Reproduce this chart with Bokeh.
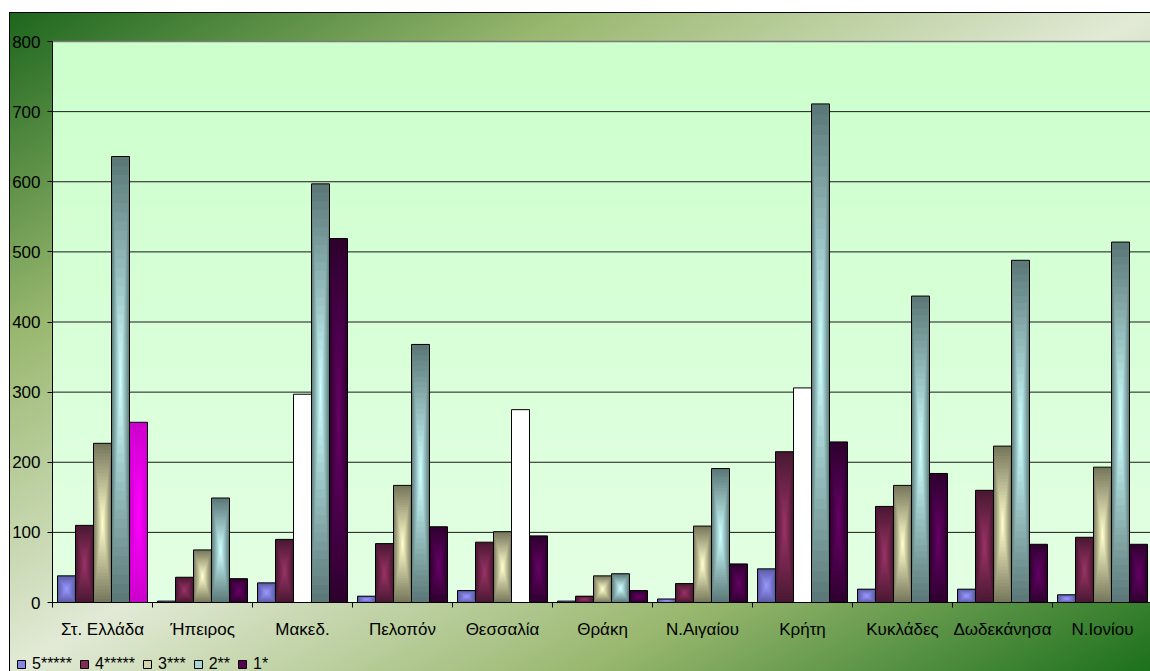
import numpy as np
from bokeh.plotting import figure
from bokeh.models import Range1d, FixedTicker, Legend, LegendItem, ColumnDataSource
from bokeh.embed import file_html
from bokeh.resources import INLINE

# Regions (x categories)
regions = ["Στ. Ελλάδα", "Ήπειρος", "Μακεδ.", "Πελοπόν", "Θεσσαλία", "Θράκη",
           "Ν.Αιγαίου", "Κρήτη", "Κυκλάδες", "Δωδεκάνησα", "Ν.Ιονίου"]

# Hotel counts by star class
series_names = ["5*****", "4*****", "3***", "2**", "1*"]
stars5 = [38, 2, 28, 9, 17, 2, 5, 48, 19, 19, 11]
stars4 = [110, 36, 90, 84, 86, 9, 27, 215, 137, 160, 93]
stars3 = [227, 75, 297, 167, 101, 38, 109, 306, 167, 223, 193]
stars2 = [636, 149, 597, 368, 275, 41, 191, 711, 437, 488, 514]
stars1 = [257, 34, 519, 108, 95, 17, 55, 229, 184, 83, 83]
series_values = [stars5, stars4, stars3, stars2, stars1]

y_ticks = [0, 100, 200, 300, 400, 500, 600, 700, 800]
Y_MAX = 800

# (edge colour, centre colour) of the "from centre" gradient fill of each series
series_fills = [("#5a5aa6", "#9999ff"),
                ("#4a1832", "#993366"),
                ("#77775c", "#ffffcc"),
                ("#5c7878", "#ccffff"),
                ("#2e002e", "#660066")]
# individually recoloured points
point_fills = {("Μακεδ.", "3***"): ("#ffffff", "#ffffff"),
               ("Θεσσαλία", "2**"): ("#ffffff", "#ffffff"),
               ("Κρήτη", "3***"): ("#ffffff", "#ffffff"),
               ("Στ. Ελλάδα", "1*"): ("#cc00cc", "#ff00ff")}

FONT = "Liberation Sans"
BAR_W = 0.18
LEVELS = 24

# canvas geometry (pixels): the frame fills the whole figure, the axes sit at fixed locations
FIG_W, FIG_H = 1141, 659
PAD_L, PAD_T, PAD_B = 43, 29, 69
px_y = Y_MAX / (FIG_H - PAD_T - PAD_B)
px_x = 10.98 / (FIG_W - PAD_L)


def hex2rgb(h):
    h = h.lstrip("#")
    return np.array([int(h[i:i + 2], 16) for i in (0, 2, 4)], dtype=float)


def mix(c0, c1, t):
    a, b = hex2rgb(c0), hex2rgb(c1)
    c = a + (b - a) * t
    return "#%02x%02x%02x" % tuple(int(round(v)) for v in c)


p = figure(width=FIG_W, height=FIG_H, output_backend="svg", toolbar_location=None,
           x_range=Range1d(-PAD_L * px_x, 10.98),
           y_range=Range1d(-PAD_B * px_y, Y_MAX + PAD_T * px_y),
           min_border=0, margin=(12, 0, 0, 9))
p.border_fill_alpha = 0
p.background_fill_alpha = 0
p.outline_line_color = None
p.stylesheets = [":host { background: linear-gradient(to bottom right, #1c661c 0%, #9ab870 25%, "
                 "#e2ead6 50%, #9ab870 75%, #1c701c 100%); box-shadow: inset 1px 1px 0 #000; }"]

# plot-area wash: light green, paler towards the baseline
ny = 256
img = np.empty((ny, 1), dtype=np.uint32)
view = img.view(dtype=np.uint8).reshape((ny, 1, 4))
top_c, bot_c = hex2rgb("#ccffcc"), hex2rgb("#e4ffe4")
for r in range(ny):
    t = r / (ny - 1)
    c = bot_c + (top_c - bot_c) * t
    view[r, 0, :3] = c.astype(np.uint8)
    view[r, 0, 3] = 255
p.image_rgba(image=[img], x=0, y=0, dw=len(regions), dh=Y_MAX, level="image")

# horizontal gridlines across the plot area; the top edge is grey
p.grid.visible = False
p.segment(x0=0, x1=len(regions), y0=y_ticks[1:-1], y1=y_ticks[1:-1],
          line_color="#1a1a1a", line_width=1, level="underlay")
p.segment(x0=0, x1=len(regions), y0=[Y_MAX], y1=[Y_MAX],
          line_color="#7a7a7a", line_width=1.5, level="underlay")

# bars: nested rectangles give the centre-lit gradient
legend_items = []
for j, (name, vals) in enumerate(zip(series_names, series_values)):
    L, R, B, T, C = [], [], [], [], []
    for i, (reg, v) in enumerate(zip(regions, vals)):
        xc = i + 0.5 + (j - 2) * BAR_W
        edge, centre = point_fills.get((reg, name), series_fills[j])
        for k in range(LEVELS):
            s = 1 - k / LEVELS
            L.append(xc - BAR_W / 2 * s)
            R.append(xc + BAR_W / 2 * s)
            B.append(v / 2 * (1 - s))
            T.append(v / 2 * (1 + s))
            C.append(mix(edge, centre, k / (LEVELS - 1)))
    src = ColumnDataSource(dict(left=L, right=R, bottom=B, top=T, color=C))
    p.quad(left="left", right="right", bottom="bottom", top="top", fill_color="color",
           line_color=None, source=src)
    xcs = [i + 0.5 + (j - 2) * BAR_W for i in range(len(regions))]
    p.quad(left=[x - BAR_W / 2 for x in xcs], right=[x + BAR_W / 2 for x in xcs],
           bottom=0, top=vals, fill_color=None, line_color="black", line_width=1)
    # legend swatch renderer, parked outside the visible ranges
    swatch = p.quad(left=[-50], right=[-49], bottom=[-5000], top=[-4999],
                    fill_color=mix(series_fills[j][0], series_fills[j][1], 0.7),
                    line_color="black", line_width=1)
    legend_items.append(LegendItem(label=name, renderers=[swatch]))

# axes
centres = [i + 0.5 for i in range(len(regions))]
p.xaxis.fixed_location = 0
p.xaxis.bounds = (0, len(regions))
p.xaxis.ticker = FixedTicker(ticks=centres, minor_ticks=list(range(len(regions) + 1)))
p.xaxis.major_label_overrides = {c: r for c, r in zip(centres, regions)}
p.xaxis.major_tick_line_color = None
p.xaxis.major_tick_out = 0
p.xaxis.major_tick_in = 0
p.xaxis.minor_tick_out = 5
p.xaxis.minor_tick_in = 0
p.xaxis.minor_tick_line_color = "black"
p.xaxis.axis_line_color = "black"
p.xaxis.major_label_standoff = 12
p.xaxis.major_label_text_font = FONT
p.xaxis.major_label_text_font_size = "17px"
p.xaxis.major_label_text_color = "black"

p.yaxis.fixed_location = 0
p.yaxis.bounds = (0, Y_MAX)
p.yaxis.ticker = FixedTicker(ticks=y_ticks)
p.yaxis.major_tick_out = 5
p.yaxis.major_tick_in = 0
p.yaxis.minor_tick_line_color = None
p.yaxis.axis_line_color = "black"
p.yaxis.major_tick_line_color = "black"
p.yaxis.major_label_standoff = 7
p.yaxis.major_label_text_font = FONT
p.yaxis.major_label_text_font_size = "17px"
p.yaxis.major_label_text_color = "black"

legend = Legend(items=legend_items, orientation="horizontal", location=(7, -2),
                background_fill_alpha=0, border_line_alpha=0, padding=0, margin=0,
                spacing=7, label_standoff=6, glyph_width=10, glyph_height=10,
                label_height=16, label_text_font=FONT, label_text_font_size="16px",
                label_text_color="black")
p.add_layout(legend, "center")

open("out.html", "w").write(file_html(p, INLINE))
